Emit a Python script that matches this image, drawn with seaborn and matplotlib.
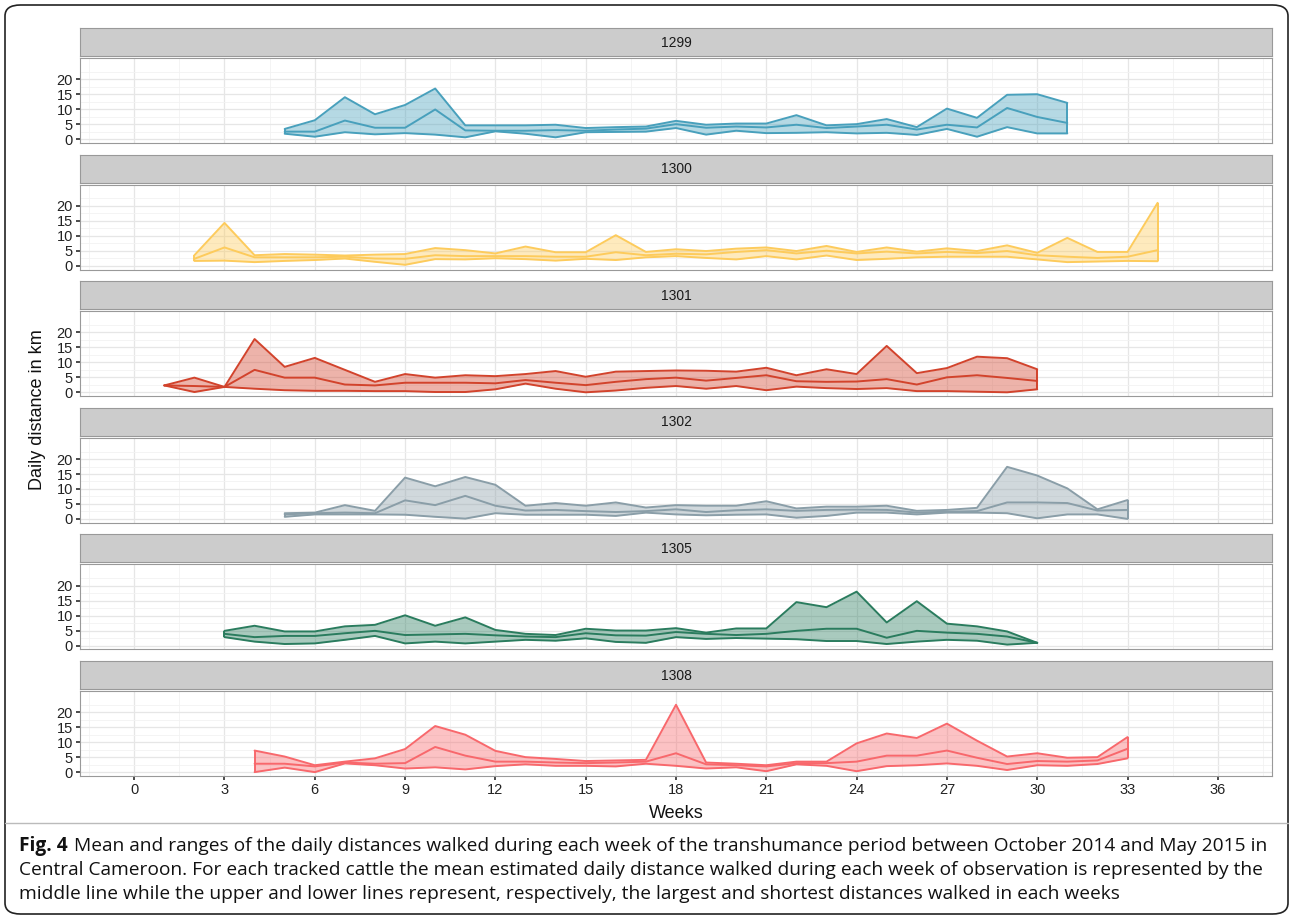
import numpy as np
import pandas as pd
import seaborn as sns
import matplotlib.pyplot as plt
from matplotlib.patches import FancyBboxPatch
from matplotlib.lines import Line2D

# cattle ids and first week of observation
animals = ['1299', '1300', '1301', '1302', '1305', '1308']
start_week = {'1299': 5, '1300': 2, '1301': 1, '1302': 5, '1305': 3, '1308': 4}

# daily distance (km): largest, mean, shortest per week
upper = {
    '1299': [3.4, 6.3, 14.0, 8.3, 11.4, 16.9, 4.6, 4.6, 4.6, 4.8, 3.7, 4.0, 4.2, 6.1,
             4.8, 5.2, 5.2, 8.0, 4.6, 5.0, 6.7, 4.0, 10.2, 7.1, 14.8, 15.0, 12.1],
    '1300': [3.5, 14.3, 3.5, 3.9, 3.7, 3.4, 3.7, 3.9, 5.9, 5.2, 4.1, 6.4, 4.5, 4.5, 10.2, 4.6, 5.5,
             4.9, 5.7, 6.1, 4.9, 6.6, 4.6, 6.1, 4.7, 5.8, 4.9, 6.8, 4.3, 9.3, 4.6, 4.6, 21.0],
    '1301': [2.3, 4.9, 1.8, 17.8, 8.5, 11.5, 7.5, 3.5, 6.1, 4.9, 5.7, 5.4, 6.1, 7.1, 5.2, 6.9, 7.1, 7.3,
             7.2, 6.9, 8.2, 5.7, 7.7, 6.1, 15.5, 6.4, 8.1, 11.9, 11.4, 7.7],
    '1302': [1.9, 2.1, 4.6, 2.7, 13.8, 10.9, 14.0, 11.4, 4.4, 5.3, 4.4, 5.5, 3.8, 4.6,
             4.4, 4.4, 5.9, 3.5, 4.1, 4.1, 4.4, 2.7, 3.0, 3.7, 17.4, 14.5, 10.2, 3.2, 6.3],
    '1305': [4.9, 6.6, 4.7, 4.7, 6.4, 6.9, 10.1, 6.6, 9.4, 5.2, 3.9, 3.5, 5.6, 5.0, 5.0, 5.8,
             4.3, 5.7, 5.7, 14.5, 12.8, 18.0, 7.7, 14.8, 7.3, 6.4, 4.7, 0.9],
    '1308': [7.2, 5.2, 2.3, 3.5, 4.6, 7.7, 15.4, 12.5, 7.1, 5.0, 4.4, 3.7, 3.9, 4.1, 22.5,
             3.2, 2.8, 2.3, 3.5, 3.5, 9.6, 12.9, 11.4, 16.2, 10.5, 5.2, 6.3, 4.8, 5.0, 11.7],
}
mean = {
    '1299': [2.5, 2.5, 6.2, 3.8, 3.8, 9.9, 2.9, 2.8, 2.8, 3.0, 2.8, 3.2, 3.5, 5.0,
             3.8, 4.2, 3.9, 4.8, 3.7, 4.2, 4.8, 3.2, 4.8, 3.9, 10.4, 7.4, 5.4],
    '1300': [2.3, 6.1, 2.8, 2.8, 2.8, 3.0, 2.4, 2.3, 3.5, 3.2, 3.2, 3.2, 3.0, 3.0, 4.5, 3.5, 4.0,
             3.8, 4.6, 5.2, 4.1, 5.0, 4.1, 4.7, 4.1, 4.6, 4.2, 4.9, 3.5, 3.0, 2.6, 3.0, 5.2],
    '1301': [2.3, 2.1, 1.8, 7.5, 4.9, 4.9, 2.6, 2.3, 3.2, 3.2, 3.2, 3.0, 4.1, 3.2, 2.4, 3.5, 4.4, 4.9,
             3.9, 4.8, 5.7, 3.7, 3.5, 3.6, 4.4, 2.6, 5.0, 5.7, 4.8, 3.8],
    '1302': [1.5, 1.9, 2.1, 1.9, 6.2, 4.6, 7.7, 4.4, 2.8, 3.0, 2.6, 2.3, 2.6, 3.2,
             2.3, 2.9, 3.2, 2.7, 3.0, 3.1, 3.0, 2.1, 2.4, 2.6, 5.5, 5.5, 5.3, 2.8, 3.0],
    '1305': [3.9, 2.8, 3.2, 3.2, 4.1, 4.9, 3.5, 3.7, 3.9, 3.4, 3.0, 2.8, 4.1, 3.4, 3.3, 4.5,
             3.9, 3.5, 3.9, 4.9, 5.6, 5.6, 2.6, 4.9, 4.3, 3.9, 3.0, 0.9],
    '1308': [2.8, 2.8, 1.9, 3.2, 2.8, 3.0, 8.4, 5.5, 3.5, 3.5, 3.2, 3.0, 3.2, 3.5, 6.3,
             2.6, 2.3, 1.9, 3.0, 3.0, 3.5, 5.5, 5.5, 7.2, 4.8, 2.7, 3.7, 3.5, 3.9, 7.8],
}
lower = {
    '1299': [1.8, 0.8, 2.3, 1.6, 2.0, 1.5, 0.6, 2.6, 1.8, 0.6, 2.3, 2.4, 2.5, 3.7,
             1.5, 2.8, 2.0, 2.1, 2.3, 1.9, 2.1, 1.4, 3.4, 0.8, 4.0, 1.9, 1.9],
    '1300': [1.6, 1.7, 1.2, 1.6, 1.9, 2.4, 1.3, 0.3, 2.2, 2.1, 2.5, 2.2, 1.7, 2.3, 1.9, 2.8, 3.2,
             2.6, 2.1, 3.2, 2.1, 3.4, 1.9, 2.3, 2.8, 3.0, 3.0, 3.0, 2.1, 1.2, 1.4, 1.6, 1.5],
    '1301': [2.3, 0.1, 1.8, 1.2, 0.7, 0.5, 0.5, 0.4, 0.4, 0.1, 0.1, 1.0, 2.9, 1.2, 0.0, 0.6, 1.5, 2.1,
             1.2, 2.1, 0.7, 1.9, 1.4, 1.1, 1.4, 0.4, 0.4, 0.2, 0.0, 1.0],
    '1302': [0.7, 1.5, 1.5, 1.5, 1.4, 0.7, 0.1, 1.9, 1.4, 1.4, 1.4, 1.0, 2.1, 1.5,
             1.2, 1.4, 1.5, 0.4, 1.0, 2.1, 2.1, 1.5, 2.1, 2.1, 1.9, 0.2, 1.5, 1.5, 0.0],
    '1305': [2.8, 1.3, 0.5, 0.7, 1.9, 3.2, 0.7, 1.3, 0.7, 1.3, 1.9, 1.6, 2.4, 1.2, 0.9, 2.8,
             2.2, 2.5, 2.3, 2.1, 1.5, 1.5, 0.5, 1.3, 1.9, 1.6, 0.3, 0.9],
    '1308': [0.0, 1.5, 0.0, 2.9, 2.3, 1.2, 1.6, 0.9, 2.0, 2.6, 2.1, 2.1, 1.9, 2.8, 2.1,
             1.2, 1.6, 0.3, 2.6, 2.1, 0.3, 2.0, 2.3, 2.9, 2.1, 0.7, 2.3, 2.1, 2.7, 4.6],
}

line_col = {'1299': '#48A0BC', '1300': '#FDCB5C', '1301': '#D2432C',
            '1302': '#8A9EA8', '1305': '#2A7C5E', '1308': '#F8686C'}

sns.set_theme(style='white')
plt.rcParams['font.family'] = ['Liberation Sans', 'DejaVu Sans']

W, H = 1293, 919
fig = plt.figure(figsize=(W / 100, H / 100), dpi=100)

# outer frame and caption separator
fig.patches.append(FancyBboxPatch((5 / W, 5 / H), 1283 / W, 909 / H,
                                  boxstyle='round,pad=0,rounding_size=0.012',
                                  transform=fig.transFigure, fill=False,
                                  edgecolor='#222222', lw=1.2))
fig.lines.append(Line2D([5 / W, 1288 / W], [1 - 823 / H, 1 - 823 / H],
                        transform=fig.transFigure, color='#BBBBBB', lw=1))

left, right = 80, 1272
for i, a in enumerate(animals):
    strip_top = 28 + 126.6 * i
    panel_top = strip_top + 30
    ph = 85
    ax = fig.add_axes([left / W, 1 - (panel_top + ph) / H, (right - left) / W, ph / H])
    sax = fig.add_axes([left / W, 1 - (strip_top + 28) / H, (right - left) / W, 28 / H])
    sax.set_facecolor('#CCCCCC')
    sax.set_xticks([]); sax.set_yticks([])
    for s in sax.spines.values():
        s.set_color('#999999'); s.set_linewidth(0.8)
    sax.text(0.5, 0.48, a, ha='center', va='center', fontsize=10, color='#1A1A1A',
             transform=sax.transAxes)

    n = len(upper[a])
    weeks = np.arange(start_week[a], start_week[a] + n)
    df = pd.DataFrame({
        'week': np.tile(weeks, 3),
        'km': upper[a] + mean[a] + lower[a],
        'stat': ['upper'] * n + ['mean'] * n + ['lower'] * n,
    })
    c = line_col[a]
    ax.fill_between(weeks, upper[a], lower[a], color=c, alpha=0.4, lw=0)
    sns.lineplot(data=df, x='week', y='km', units='stat', estimator=None,
                 color=c, lw=1.4, ax=ax, legend=False)
    # closing edges of the ribbon
    ax.vlines([weeks[0], weeks[-1]], [lower[a][0], lower[a][-1]], [upper[a][0], upper[a][-1]],
              color=c, lw=1.4)

    ax.set_xlim(-1.8, 37.8)
    ax.set_ylim(-1.3, 27.1)
    ax.set_xticks(np.arange(0, 37, 3))
    ax.set_xticks(np.arange(-1.5, 37.6, 1.5), minor=True)
    ax.set_yticks([0, 5, 10, 15, 20])
    ax.set_yticks([2.5, 7.5, 12.5, 17.5, 22.5], minor=True)
    ax.grid(True, which='major', color='#E6E6E6', lw=0.9)
    ax.grid(True, which='minor', color='#F2F2F2', lw=0.6)
    ax.set_axisbelow(True)
    for s in ax.spines.values():
        s.set_color('#999999'); s.set_linewidth(0.8)
    ax.tick_params(axis='y', which='major', length=3, color='#333333', labelsize=10.5,
                   labelcolor='#222222', pad=2, left=True)
    ax.tick_params(which='minor', length=0)
    ax.set_ylabel(''); ax.set_xlabel('')
    if i == len(animals) - 1:
        ax.tick_params(axis='x', which='major', length=3, color='#333333', labelsize=10.5,
                       labelcolor='#222222', pad=2, bottom=True)
    else:
        ax.tick_params(axis='x', labelbottom=False, bottom=False)

fig.text(676 / W, 1 - 813 / H, 'Weeks', ha='center', va='center', fontsize=13, color='#111111')
fig.text(38 / W, 1 - 410 / H, 'Daily distance in km', ha='center', va='center',
         rotation=90, fontsize=13, color='#111111')

cap = [
    'Mean and ranges of the daily distances walked during each week of the transhumance period between October 2014 and May 2015 in',
    'Central Cameroon. For each tracked cattle the mean estimated daily distance walked during each week of observation is represented by the',
    'middle line while the upper and lower lines represent, respectively, the largest and shortest distances walked in each weeks',
]
cap_font = ['Open Sans', 'DejaVu Sans']
cap_size = 13.8
t = fig.text(19 / W, 1 - 846 / H, 'Fig. 4', ha='left', va='center', fontsize=cap_size,
             fontweight='bold', family=cap_font, color='#111111')
fig.canvas.draw()
bb = t.get_window_extent()
fig.text((bb.x1 + 6) / W, 1 - 846 / H, cap[0], ha='left', va='center', fontsize=cap_size,
         family=cap_font, color='#111111')
fig.text(19 / W, 1 - 870 / H, cap[1], ha='left', va='center', fontsize=cap_size,
         family=cap_font, color='#111111')
fig.text(19 / W, 1 - 894 / H, cap[2], ha='left', va='center', fontsize=cap_size,
         family=cap_font, color='#111111')

fig.savefig('out.png', dpi=100)
